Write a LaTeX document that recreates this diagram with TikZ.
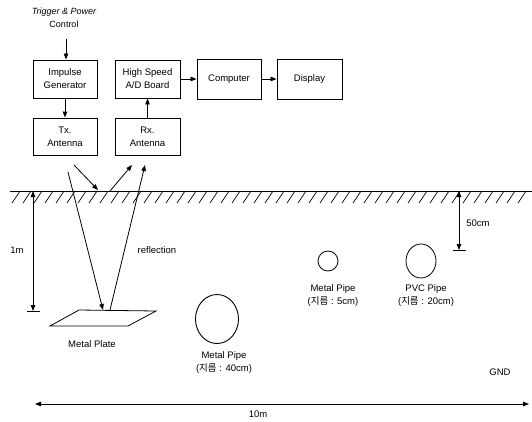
\documentclass[tikz,border=0pt]{standalone}
\usepackage{fontspec}
\setmainfont{Liberation Sans}
\newfontfamily\kr{Noto Sans CJK KR}
\usetikzlibrary{arrows.meta}
\begin{document}
\begin{tikzpicture}[x=1pt,y=-1pt,
  every node/.style={font=\fontsize{9.5}{13}\selectfont, inner sep=0pt},
  blk/.style={draw, line width=0.9pt, minimum width=64pt, minimum height=38pt, align=center},
  arr/.style={-{Triangle[length=6pt,width=4.5pt]}, line width=0.8pt},
  darr/.style={{Triangle[length=6pt,width=4.5pt]}-{Triangle[length=6pt,width=4.5pt]}, line width=0.8pt},
  lbl/.style={align=center}]
\useasboundingbox (0,0) rectangle (532,421);
% blocks
\node[blk] (imp) at (65,79) {Impulse\\Generator};
\node[blk, minimum width=65pt] (ad) at (147.5,79) {High Speed\\A/D Board};
\node[blk, minimum height=40pt] (comp) at (229,79) {Computer};
\node[blk, minimum width=65pt, minimum height=40pt] (disp) at (309.5,79) {Display};
\node[blk, minimum height=37pt] (tx) at (65,136.5) {Tx.\\Antenna};
\node[blk, minimum width=65pt, minimum height=37pt] (rx) at (147.5,136.5) {Rx.\\Antenna};
\node[lbl, font=\fontsize{9}{13}\selectfont\itshape] (trig) at (64,18) {Trigger \& Power\\ \upshape Control};
\coordinate (trigend) at (66,39);
\draw[arr] (trigend) -- (imp.north -| trigend);
\draw[arr] (imp.south) -- (tx.north);
\draw[arr] (rx.north) -- (ad.south);
\draw[arr] (ad.east) -- (comp.west);
\draw[arr] (comp.east) -- (disp.west);
% ground
\coordinate (gl) at (10,191);
\coordinate (gr) at (532,191);
\draw[line width=0.9pt] (gl) -- (gr);
\foreach \x in {12,23,...,523} \draw[line width=0.7pt] (\x,203) -- (\x+8,191);
% rays
\coordinate (r1a) at (74,165); \coordinate (r1b) at (98,190);
\coordinate (r2a) at (110,191); \coordinate (r2b) at (132,165);
\coordinate (r3a) at (68,172); \coordinate (r3b) at (103,310);
\coordinate (r4a) at (110,310); \coordinate (r4b) at (145,165);
\draw[arr] (r1a) -- (r1b);
\draw[arr] (r2a) -- (r2b);
\draw[arr] (r3a) -- (r3b);
\draw[arr] (r4a) -- (r4b);
% metal plate
\draw[line width=0.8pt] (50,326) -- (79,310) -- (156,311) -- (128,326) -- cycle;
\node (plate) at (92,344) {Metal Plate};
\node (refl) at (157,250) {reflection};
% 1m dimension
\coordinate (m1t) at (33,191); \coordinate (m1b) at (33,311);
\draw[darr] (m1t) -- (m1b);
\draw[line width=0.8pt] (27,311) -- (40,311);
\node (onem) at (17,250) {1m};
% 50cm dimension
\coordinate (c5t) at (459,191); \coordinate (c5b) at (459,250);
\draw[darr] (c5t) -- (c5b);
\draw[line width=0.8pt] (453,250) -- (466,250);
\node (fifty) at (478,223) {50cm};
% pipes
\draw[line width=0.9pt] (217,319) ellipse [x radius=21.5, y radius=24.5];
\node[lbl] (mp40) at (224,363) {Metal Pipe\\({\kr 지름} : 40cm)};
\draw[line width=0.8pt] (328,261) circle [radius=10];
\node[lbl] (mp5) at (333,296) {Metal Pipe\\({\kr 지름} : 5cm)};
\draw[line width=0.8pt] (421,261) ellipse [x radius=15, y radius=17];
\node[lbl] (pvc) at (426,296) {PVC Pipe\\({\kr 지름} : 20cm)};
\node (gnd) at (500,372) {GND};
% 10m
\coordinate (tl) at (35,404); \coordinate (tr) at (529,404);
\draw[darr] (tl) -- (tr);
\node (ten) at (258,414) {10m};
\end{tikzpicture}
\end{document}
